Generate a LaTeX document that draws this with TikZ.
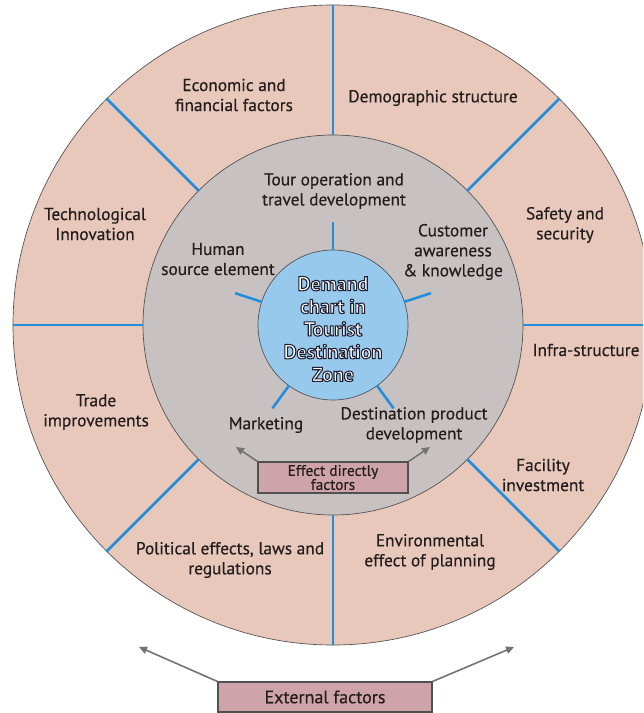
\documentclass[tikz,border=0pt]{standalone}
\usepackage{fontspec}
\setmainfont{PT Sans}
\newfontfamily\lblfont{PT Sans}[FakeBold=0.35]
\usetikzlibrary{arrows.meta,calc}
\definecolor{outerfill}{RGB}{231,200,186}
\definecolor{innerfill}{RGB}{199,194,193}
\definecolor{corefill}{RGB}{150,201,236}
\definecolor{sepblue}{RGB}{32,142,222}
\definecolor{boxfill}{RGB}{207,163,170}
\definecolor{rimgray}{RGB}{80,80,80}
\definecolor{arrowgray}{RGB}{115,115,115}
\definecolor{txt}{RGB}{35,28,28}
\newcommand{\outlineon}{\special{pdf:literal direct 2 Tr 0.8 w 0.12 0.12 0.2 RG}}
\newcommand{\outlineoff}{\special{pdf:literal direct 0 Tr}}
\begin{document}
\begin{tikzpicture}[x=0.75pt,y=-0.75pt,
  lbl/.style={align=center,font=\lblfont\fontsize{13}{15}\selectfont,text=txt,inner sep=0pt},
  ring/.style={circle,draw=rimgray,line width=0.5pt,outer sep=0pt,inner sep=0pt},
  sepline/.style={draw=sepblue,line width=1.9pt},
  factbox/.style={draw=rimgray,fill=boxfill,line width=0.8pt,align=center,text=txt,inner sep=0pt},
  arr/.style={draw=arrowgray,line width=1.2pt,-{Triangle[length=6pt,width=5.5pt]}}]
\useasboundingbox (0,0) rectangle (643,713);
\clip (0,0) rectangle (643,713);
\node[ring,fill=outerfill,minimum size=480pt] (outer) at (333,325) {};
\node[ring,fill=innerfill,minimum size=285pt] (inner) at (333,325) {};
% separators between outer factors
\foreach \a in {0,45,...,315}
  \draw[sepline] (inner.\a) -- (outer.\a);
\node[ring,fill=corefill,minimum size=112.5pt] (core) at (333,325) {};
\foreach \a in {18,90,162,234,306}
  \draw[sepline] (core.\a) -- ([shift={(\a:21pt)}]core.\a);
\node[align=center,text=white,inner sep=0pt,font=\bfseries\fontsize{15}{17}\selectfont] (coretext) at (333,329)
  {\outlineon Demand\\chart in\\Tourist\\Destination\\Zone\outlineoff};
% outer labels
\node[lbl] (eco) at (234,95) {Economic and\\financial factors};
\node[lbl] (demo) at (433,98) {Demographic structure};
\node[lbl] (tech) at (95,224) {Technological\\Innovation};
\node[lbl] (safe) at (565,225) {Safety and\\security};
\node[lbl] (infra) at (586,350) {Infra-structure};
\node[lbl] (trade) at (96,412) {Trade\\improvements};
\node[lbl] (fac) at (543,475) {Facility\\investment};
\node[lbl] (pol) at (230,560) {Political effects, laws and\\regulations};
\node[lbl] (env) at (430,552) {Environmental\\effect of planning};
% inner labels
\node[lbl] (tour) at (334,191) {Tour operation and\\travel development};
\node[lbl] (cust) at (453,252) {Customer\\awareness\\\& knowledge};
\node[lbl] (human) at (218,259) {Human\\source element};
\node[lbl] (mkt) at (266,425) {Marketing};
\node[lbl] (dpd) at (414,425) {Destination product\\development};
% boxes
\node[factbox,minimum width=112.5pt,minimum height=23.25pt,font=\lblfont\fontsize{11.5}{10.5}\selectfont] (eff) at (333,477.5) {Effect directly\\factors};
\node[factbox,minimum width=160.5pt,minimum height=22.5pt,font=\lblfont\fontsize{13.5}{15}\selectfont] (ext) at (325,697) {External factors};
\coordinate (effL) at (236,447);
\coordinate (effR) at (430,447);
\coordinate (extL) at (139,647);
\coordinate (extR) at (514,647);
\draw[arr] (eff.north west) -- (effL);
\draw[arr] (eff.north east) -- (effR);
\draw[arr] (ext.north west) -- (extL);
\draw[arr] (ext.north east) -- (extR);
\end{tikzpicture}
\end{document}
